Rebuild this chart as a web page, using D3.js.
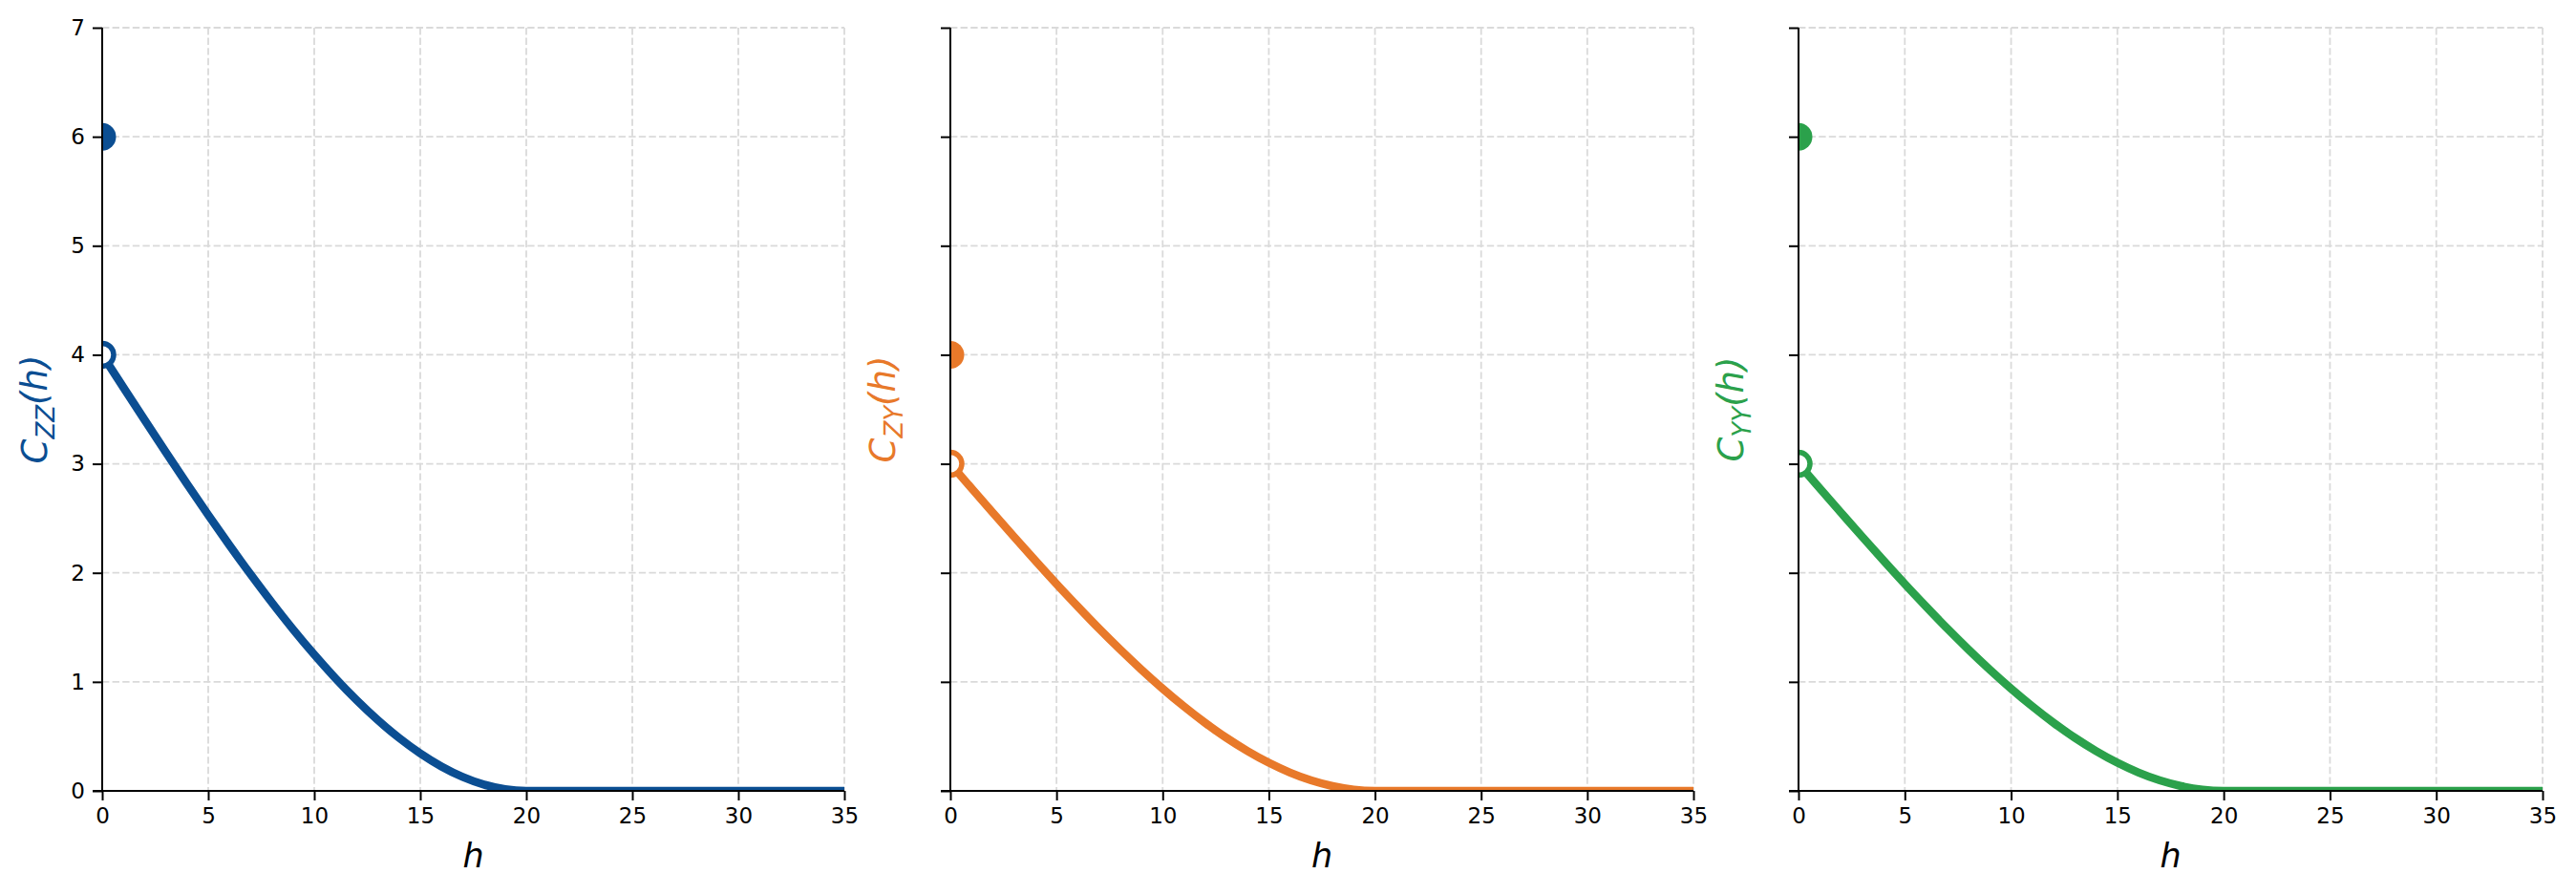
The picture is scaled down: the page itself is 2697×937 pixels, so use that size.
<!DOCTYPE html>
<html>
<head>
<meta charset="utf-8">
<script src="https://cdn.jsdelivr.net/npm/d3@7"></script>
<style>
  html, body { margin: 0; padding: 0; background: #fff; }
  svg { display: block; }
  text { font-family: "DejaVu Sans", sans-serif; }
</style>
</head>
<body>
<svg id="chart" width="2697" height="937"></svg>
<script>
// ---- data ----
const lagH = [0,1,2,3,4,5,6,7,8,9,10,11,12,13,14,15,16,17,18,19,20,25,30,35];
const covZZ = [4.000,3.700,3.402,3.107,2.816,2.531,2.254,1.986,1.728,1.482,1.250,1.033,0.832,0.649,0.486,0.344,0.224,0.128,0.058,0.015,0,0,0,0];
const covZY = [3.000,2.775,2.552,2.330,2.112,1.898,1.691,1.489,1.296,1.112,0.938,0.775,0.624,0.487,0.365,0.258,0.168,0.096,0.044,0.011,0,0,0,0];
const covYY = [3.000,2.775,2.552,2.330,2.112,1.898,1.691,1.489,1.296,1.112,0.938,0.775,0.624,0.487,0.365,0.258,0.168,0.096,0.044,0.011,0,0,0,0];
const atZeroFilled = [6, 4, 6];   // value at h = 0 (filled dot)
const atZeroOpen = [4, 3, 3];     // limit as h -> 0+ (open circle)
const panelNames = ["ZZ", "ZY", "YY"];
const panelColors = ["#0b4e92", "#e8792a", "#2ba14b"];
const xTicks = [0,5,10,15,20,25,30,35];
const yTicks = [0,1,2,3,4,5,6,7];

const series = [covZZ, covZY, covYY];

// ---- layout ----
const panelsX = [[107, 884], [995, 1773], [1883, 2662]];
const yTop = 29, yBottom = 828;

const svg = d3.select("#chart");
const defs = svg.append("defs");

panelsX.forEach((px, i) => {
  const x = d3.scaleLinear().domain([0, 35]).range(px);
  const y = d3.scaleLinear().domain([0, 7]).range([yBottom, yTop]);
  const g = svg.append("g");
  const color = panelColors[i];

  const clipId = "clip" + i;
  defs.append("clipPath").attr("id", clipId)
    .append("rect").attr("x", px[0]).attr("y", yTop)
    .attr("width", px[1] - px[0]).attr("height", yBottom - yTop);

  // grid
  const grid = g.append("g");
  grid.selectAll("line.gx").data(xTicks).join("line")
    .attr("x1", d => x(d)).attr("x2", d => x(d))
    .attr("y1", yTop).attr("y2", yBottom)
    .attr("stroke", "#dadada").attr("stroke-width", 1.8)
    .attr("stroke-dasharray", "7.4,3.2");
  grid.selectAll("line.gy").data(yTicks).join("line")
    .attr("x1", px[0]).attr("x2", px[1])
    .attr("y1", d => y(d)).attr("y2", d => y(d))
    .attr("stroke", "#dadada").attr("stroke-width", 1.8)
    .attr("stroke-dasharray", "7.4,3.2");

  // curve
  const pts = lagH.map((h, k) => [h, series[i][k]]);
  const line = d3.line().x(d => x(d[0])).y(d => y(d[1])).curve(d3.curveMonotoneX);
  const plot = g.append("g").attr("clip-path", `url(#${clipId})`);
  plot.append("path").datum(pts)
    .attr("d", line).attr("fill", "none")
    .attr("stroke", color).attr("stroke-width", 8.5)
    .attr("stroke-linejoin", "round");

  // markers
  plot.append("circle")
    .attr("cx", x(0)).attr("cy", y(atZeroFilled[i]))
    .attr("r", 14.5).attr("fill", color);
  plot.append("circle")
    .attr("cx", x(0)).attr("cy", y(atZeroOpen[i]))
    .attr("r", 12).attr("fill", "#fff")
    .attr("stroke", color).attr("stroke-width", 5.5);

  // axes
  const xAxis = d3.axisBottom(x).tickValues(xTicks).tickSize(10).tickPadding(8).tickFormat(d3.format("d"));
  const yAxis = d3.axisLeft(y).tickValues(yTicks).tickSize(10).tickPadding(8)
    .tickFormat(i === 0 ? d3.format("d") : () => "");
  const gx = g.append("g").attr("transform", `translate(0,${yBottom})`).call(xAxis);
  const gy = g.append("g").attr("transform", `translate(${px[0]},0)`).call(yAxis);
  [gx, gy].forEach(a => {
    a.select(".domain").attr("stroke", "#000").attr("stroke-width", 2);
    a.selectAll(".tick line").attr("stroke", "#000").attr("stroke-width", 2);
    a.selectAll(".tick text").attr("fill", "#000").style("font-size", "23px")
      .style("font-family", "'DejaVu Sans', sans-serif");
  });
  gx.select(".domain").attr("d", `M${px[0]-10},0H${px[1]}`);
  gy.select(".domain").attr("d", `M0,${yBottom}V${yTop}`);

  // x label
  g.append("text")
    .attr("x", (px[0] + px[1]) / 2).attr("y", 908)
    .attr("text-anchor", "middle")
    .style("font-size", "35px").style("font-style", "italic")
    .text("h");

  // y label
  const lab = g.append("text")
    .attr("transform", `translate(${px[0] - 58},${y(3.5)}) rotate(-90)`)
    .attr("text-anchor", "middle")
    .attr("fill", color)
    .style("font-size", "37px").style("font-style", "italic");
  lab.append("tspan").text("C");
  lab.append("tspan").attr("dy", 8).style("font-size", "26px").text(panelNames[i]);
  lab.append("tspan").attr("dy", -8).text("(h)");
});
</script>
</body>
</html>
